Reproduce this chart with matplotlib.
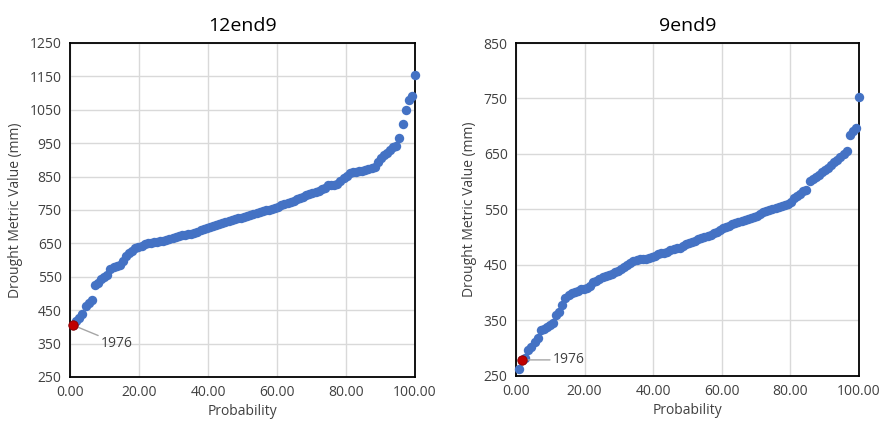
import numpy as np
import matplotlib
matplotlib.use("Agg")
import matplotlib.pyplot as plt
from matplotlib.ticker import FormatStrFormatter

plt.rcParams['font.family'] = ['Open Sans', 'DejaVu Sans']

# отсортированные значения (мм), 12end9
vals_12end9 = [405, 418, 428, 438, 462, 472, 480, 525, 532, 542,
               550, 556, 572, 578, 582, 586, 596, 612, 620, 626,
               636, 640, 643, 647, 650, 652, 654, 655, 656, 658,
               660, 663, 666, 669, 672, 674, 676, 677, 679, 681,
               685, 689, 693, 697, 700, 703, 706, 709, 712, 715,
               718, 721, 723, 725, 727, 730, 733, 735, 738, 741,
               744, 747, 749, 751, 753, 756, 760, 765, 768, 771,
               774, 778, 782, 786, 790, 794, 798, 801, 804, 808,
               812, 816, 824, 826, 826, 828, 836, 846, 852, 860,
               863, 864, 866, 868, 870, 872, 875, 878, 895, 905,
               915, 922, 930, 938, 942, 965, 1007, 1050, 1078, 1092,
               1155]

# отсортированные значения (мм), 9end9
vals_9end9 = [263, 279, 283, 297, 303, 312, 318, 332, 334, 338,
              342, 345, 360, 366, 378, 390, 396, 400, 402, 404,
              406, 407, 409, 412, 420, 422, 425, 428, 430, 432,
              434, 437, 440, 443, 447, 450, 454, 457, 459, 460,
              460, 461, 463, 465, 467, 469, 471, 472, 474, 477,
              479, 480, 481, 484, 487, 489, 491, 494, 496, 499,
              500, 502, 504, 507, 510, 513, 516, 519, 521, 523,
              526, 528, 530, 531, 532, 534, 536, 538, 542, 545,
              547, 549, 551, 553, 555, 557, 558, 560, 563, 570,
              574, 578, 583, 586, 601, 605, 608, 612, 618, 622,
              625, 630, 635, 640, 645, 650, 655, 685, 692, 697,
              752]

idx_1976_12 = 0   # позиция 1976 года в ряду
idx_1976_9 = 1

blue = '#4472C4'
red = '#C00000'
txt = '#404040'


def prob(vals):
    # вероятность непревышения: ранг / n * 100
    n = len(vals)
    return np.arange(1, n + 1) / n * 100


fig = plt.figure(figsize=(8.81, 4.30), dpi=100)
ax1 = fig.add_axes([0.0795, 0.1233, 0.3916, 0.7767])
ax2 = fig.add_axes([0.5857, 0.1256, 0.3893, 0.7744])

panels = [
    (ax1, '12end9', vals_12end9, idx_1976_12, (250, 1250), (20, -13)),
    (ax2, '9end9', vals_9end9, idx_1976_9, (250, 850), (22, 0)),
]

for ax, title, vals, i76, ylim, off in panels:
    p = prob(vals)
    ax.scatter(p, vals, s=46, color=blue, zorder=3, clip_on=False, linewidths=0)
    ax.scatter(p[i76], vals[i76], s=46, color=red, edgecolors='#8b0000',
               linewidths=0.6, zorder=4, clip_on=False)
    ax.annotate('1976', xy=(p[i76], vals[i76]), xytext=off, textcoords='offset points',
                fontsize=10, color=txt, va='center',
                arrowprops=dict(arrowstyle='-', color='#a6a6a6', lw=1,
                                shrinkA=0, shrinkB=3))

    ax.set_xlim(0, 100)
    ax.set_ylim(*ylim)
    ax.set_xticks(np.arange(0, 101, 20))
    ax.set_yticks(np.arange(ylim[0], ylim[1] + 1, 100))
    ax.xaxis.set_major_formatter(FormatStrFormatter('%.2f'))
    ax.grid(True, color='#d9d9d9', lw=1)
    ax.set_axisbelow(True)
    ax.tick_params(length=0, labelsize=10, colors=txt, pad=6)
    for s in ax.spines.values():
        s.set_color('black')
        s.set_linewidth(1.3)
    ax.set_title(title, fontsize=14, color='black', pad=9)
    ax.set_xlabel('Probability', fontsize=10, color=txt, labelpad=3)
    ax.set_ylabel('Drought Metric Value (mm)', fontsize=10, color=txt, labelpad=5)

fig.savefig('out.png', dpi=100)
